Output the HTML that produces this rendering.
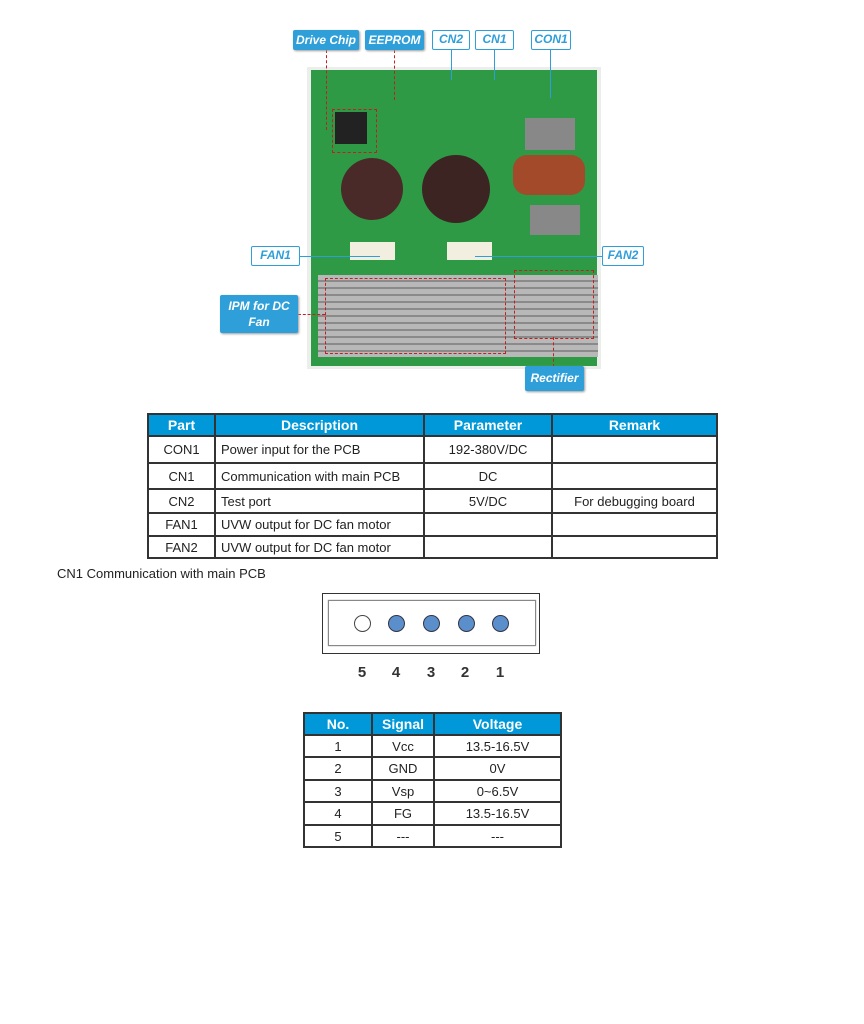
<!DOCTYPE html>
<html><head><style>
body{margin:0;width:864px;height:1024px;background:#fff;position:relative;font-family:"Liberation Sans",sans-serif;overflow:hidden}
.a{position:absolute}
.lf{background:#2e9fd8;color:#fff;font-weight:bold;font-style:italic;font-size:12px;text-align:center;border-radius:2px;box-shadow:1px 1px 2px #999}
.lo{background:#fff;color:#2e9fd8;border:1.5px solid #2e9fd8;font-weight:bold;font-style:italic;font-size:12px;text-align:center;box-sizing:border-box;border-radius:2px}
table{border-collapse:collapse;position:absolute;font-size:13px;color:#222}
td,th{border:2px solid #333;padding:0 5px}
th{background:#0098d8;color:#fff;font-weight:bold;font-size:14px}
.n{position:absolute;top:664px;font-size:15px;font-weight:bold;color:#333;width:20px;text-align:center}
</style></head><body>
<!-- PCB -->
<div class="a" style="left:307px;top:67px;width:294px;height:302px;background:#eceeec"></div>
<div class="a" style="left:311px;top:70px;width:286px;height:296px;background:#2f9a45"></div>
<div class="a" style="left:335px;top:112px;width:32px;height:32px;background:#222"></div>
<div class="a" style="left:341px;top:158px;width:62px;height:62px;border-radius:50%;background:#4a2a28"></div>
<div class="a" style="left:422px;top:155px;width:68px;height:68px;border-radius:50%;background:#3b2422"></div>
<div class="a" style="left:513px;top:155px;width:72px;height:40px;border-radius:14px;background:#a24a2a"></div>
<div class="a" style="left:525px;top:118px;width:50px;height:32px;background:#888"></div>
<div class="a" style="left:530px;top:205px;width:50px;height:30px;background:#888"></div>
<div class="a" style="left:350px;top:242px;width:45px;height:18px;background:#f2eee0"></div>
<div class="a" style="left:447px;top:242px;width:45px;height:18px;background:#f2eee0"></div>
<div class="a" style="left:318px;top:275px;width:280px;height:82px;background:repeating-linear-gradient(#b8b8b8 0 5px,#8a8a8a 5px 7px)"></div>
<div class="a" style="left:325px;top:278px;width:179px;height:74px;border:1.5px dashed #c02020"></div>
<div class="a" style="left:514px;top:270px;width:78px;height:67px;border:1.5px dashed #c02020"></div>
<div class="a" style="left:332px;top:109px;width:43px;height:42px;border:1.5px dashed #c02020"></div>
<!-- leader lines -->
<div class="a" style="left:326px;top:50px;height:80px;border-left:1.5px dashed #c02020"></div>
<div class="a" style="left:394px;top:50px;height:50px;border-left:1.5px dashed #c02020"></div>
<div class="a" style="left:451px;top:50px;height:30px;border-left:1.5px solid #2e9fd8"></div>
<div class="a" style="left:494px;top:50px;height:30px;border-left:1.5px solid #2e9fd8"></div>
<div class="a" style="left:550px;top:50px;height:48px;border-left:1.5px solid #2e9fd8"></div>
<div class="a" style="left:300px;top:256px;width:80px;border-top:1.5px solid #2e9fd8"></div>
<div class="a" style="left:475px;top:256px;width:127px;border-top:1.5px solid #2e9fd8"></div>
<div class="a" style="left:298px;top:314px;width:27px;border-top:1.5px dashed #c02020"></div>
<div class="a" style="left:553px;top:337px;height:30px;border-left:1.5px dashed #c02020"></div>
<!-- labels -->
<div class="a lf" style="left:293px;top:30px;width:66px;height:20px;line-height:20px">Drive Chip</div>
<div class="a lf" style="left:365px;top:30px;width:59px;height:20px;line-height:20px">EEPROM</div>
<div class="a lo" style="left:432px;top:30px;width:38px;height:20px;line-height:17px">CN2</div>
<div class="a lo" style="left:475px;top:30px;width:39px;height:20px;line-height:17px">CN1</div>
<div class="a lo" style="left:531px;top:30px;width:40px;height:20px;line-height:17px">CON1</div>
<div class="a lo" style="left:251px;top:246px;width:49px;height:20px;line-height:17px">FAN1</div>
<div class="a lo" style="left:602px;top:246px;width:42px;height:20px;line-height:17px">FAN2</div>
<div class="a lf" style="left:220px;top:295px;width:78px;height:38px;line-height:16px;padding-top:3px;box-sizing:border-box">IPM for DC<br>Fan</div>
<div class="a lf" style="left:525px;top:366px;width:59px;height:25px;line-height:25px">Rectifier</div>
<!-- table 1 -->
<table style="left:147px;top:413px;width:571px">
<tr style="height:22px"><th style="width:55px">Part</th><th style="width:197px">Description</th><th style="width:116px">Parameter</th><th>Remark</th></tr>
<tr style="height:27px"><td align=center>CON1</td><td>Power input for the PCB</td><td align=center>192-380V/DC</td><td></td></tr>
<tr style="height:26px"><td align=center>CN1</td><td>Communication with main PCB</td><td align=center>DC</td><td></td></tr>
<tr style="height:24px"><td align=center>CN2</td><td>Test port</td><td align=center>5V/DC</td><td align=center>For debugging board</td></tr>
<tr style="height:23px"><td align=center>FAN1</td><td>UVW output for DC fan motor</td><td></td><td></td></tr>
<tr style="height:22px"><td align=center>FAN2</td><td>UVW output for DC fan motor</td><td></td><td></td></tr>
</table>
<div class="a" style="left:57px;top:566px;font-size:13px;color:#222">CN1 Communication with main PCB</div>
<div class="a" style="left:322px;top:593px;width:216px;height:59px;border:1px solid #333"></div>
<div class="a" style="left:328px;top:600px;width:206px;height:44px;border:1px solid #888;box-shadow:0 0 1px #888"></div>
<div class="a" style="left:354px;top:615px;width:15px;height:15px;border-radius:50%;border:1px solid #444;background:#fff"></div>
<div class="a" style="left:388px;top:615px;width:15px;height:15px;border-radius:50%;border:1px solid #334;background:#5b8fcb"></div>
<div class="a" style="left:423px;top:615px;width:15px;height:15px;border-radius:50%;border:1px solid #334;background:#5b8fcb"></div>
<div class="a" style="left:458px;top:615px;width:15px;height:15px;border-radius:50%;border:1px solid #334;background:#5b8fcb"></div>
<div class="a" style="left:492px;top:615px;width:15px;height:15px;border-radius:50%;border:1px solid #334;background:#5b8fcb"></div>
<div class="n" style="left:352px">5</div>
<div class="n" style="left:386px">4</div>
<div class="n" style="left:421px">3</div>
<div class="n" style="left:455px">2</div>
<div class="n" style="left:490px">1</div>
<!-- table 2 -->
<table style="left:303px;top:712px;width:259px;text-align:center">
<tr style="height:22px"><th style="width:56px">No.</th><th style="width:50px">Signal</th><th>Voltage</th></tr>
<tr style="height:22px"><td>1</td><td>Vcc</td><td>13.5-16.5V</td></tr>
<tr style="height:23px"><td>2</td><td>GND</td><td>0V</td></tr>
<tr style="height:22px"><td>3</td><td>Vsp</td><td>0~6.5V</td></tr>
<tr style="height:23px"><td>4</td><td>FG</td><td>13.5-16.5V</td></tr>
<tr style="height:22px"><td>5</td><td>---</td><td>---</td></tr>
</table>
</body></html>
